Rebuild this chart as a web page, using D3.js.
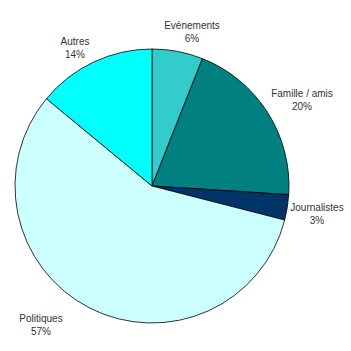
<!DOCTYPE html>
<html><head><meta charset="utf-8">
<script src="https://cdn.jsdelivr.net/npm/d3@7"></script>
<style>body{margin:0;background:#fff}svg{display:block}</style>
</head><body>
<script>
const categories = ["Evénements", "Famille / amis", "Journalistes", "Politiques", "Autres"];
const values = [6, 20, 3, 57, 14];
const colors = ["#33CCCC", "#008080", "#003366", "#CCFFFF", "#00FFFF"];
const labelPos = [[192, 29], [302, 97], [317, 211], [41, 322], [75, 45]];

const W = 351, H = 351, cx = 152, cy = 186, r = 137;
const svg = d3.select("body").append("svg").attr("width", W).attr("height", H);
const pie = d3.pie().sort(null).value(d => d)(values);
const arc = d3.arc().innerRadius(0).outerRadius(r);
const g = svg.append("g").attr("transform", `translate(${cx},${cy})`);
g.selectAll("path").data(pie).enter().append("path")
  .attr("d", arc).attr("fill", (d, i) => colors[i])
  .attr("stroke", "#000").attr("stroke-width", 0.8).attr("stroke-linejoin", "round");

const lab = svg.append("g").attr("font-family", "Liberation Sans, Arial, sans-serif")
  .attr("font-size", 10).attr("fill", "#333").attr("text-anchor", "middle");
categories.forEach((c, i) => {
  const t = lab.append("text").attr("x", labelPos[i][0]).attr("y", labelPos[i][1]);
  t.append("tspan").attr("x", labelPos[i][0]).attr("dy", 0).text(c);
  t.append("tspan").attr("x", labelPos[i][0]).attr("dy", 12.5).text(values[i] + "%");
});
</script>
</body></html>
